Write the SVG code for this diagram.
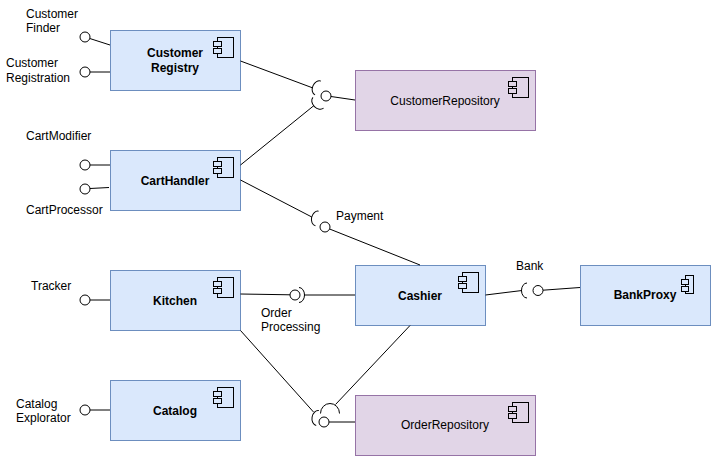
<svg xmlns="http://www.w3.org/2000/svg" xmlns:xlink="http://www.w3.org/1999/xlink" width="711" height="456" viewBox="0 0 711 456">
<style>
text{font-family:"Liberation Sans",Arial,Helvetica,sans-serif;font-size:12px;fill:#000}
.b{font-weight:bold;text-anchor:middle}
.n{text-anchor:middle}
.blue{fill:#dae8fc;stroke:#6c8ebf;stroke-width:1}
.purple{fill:#e1d5e7;stroke:#9673a6;stroke-width:1}
.ln{fill:none;stroke:#000;stroke-width:1}
.ball{fill:#fff;stroke:#000;stroke-width:1}
.sock{fill:none;stroke:#000;stroke-width:1}
.ic{stroke:#000;stroke-width:1}
</style>
<defs>
<g id="icon">
<rect class="ic" x="0" y="0" width="16" height="20"/>
<rect class="ic" x="-4" y="4" width="8" height="5"/>
<rect class="ic" x="-4" y="11" width="8" height="5"/>
</g>
<path id="sk" d="M 0 -7.5 A 5.5 7.5 0 0 0 0 7.5"/>
</defs>
<rect width="711" height="456" fill="#fff"/>

<g id="customerRegistry">
<rect class="blue" x="110.5" y="30.5" width="130" height="60"/>
<use xlink:href="#icon" href="#icon" x="217.5" y="37.5" fill="#dae8fc"/>
<text class="b" x="175" y="57">Customer</text>
<text class="b" x="175" y="72">Registry</text>
</g>
<g id="cartHandler">
<rect class="blue" x="110.5" y="150.5" width="130" height="60"/>
<use xlink:href="#icon" href="#icon" x="217.5" y="157.5" fill="#dae8fc"/>
<text class="b" x="175" y="184.5">CartHandler</text>
</g>
<g id="kitchen">
<rect class="blue" x="110.5" y="270.5" width="130" height="60"/>
<use xlink:href="#icon" href="#icon" x="217.5" y="277.5" fill="#dae8fc"/>
<text class="b" x="175" y="304.5">Kitchen</text>
</g>
<g id="catalog">
<rect class="blue" x="110.5" y="380.5" width="130" height="60"/>
<use xlink:href="#icon" href="#icon" x="217.5" y="387.5" fill="#dae8fc"/>
<text class="b" x="175" y="414.5">Catalog</text>
</g>
<g id="customerRepository">
<rect class="purple" x="355.5" y="70.5" width="180" height="60"/>
<use xlink:href="#icon" href="#icon" x="512.5" y="77.5" fill="#e1d5e7"/>
<text class="n" x="445" y="104.5">CustomerRepository</text>
</g>
<g id="cashier">
<rect class="blue" x="355.5" y="265.5" width="130" height="60"/>
<use xlink:href="#icon" href="#icon" x="462.5" y="272.5" fill="#dae8fc"/>
<text class="b" x="420" y="299.5">Cashier</text>
</g>
<g id="orderRepository">
<rect class="purple" x="355.5" y="395.5" width="180" height="60"/>
<use xlink:href="#icon" href="#icon" x="512.5" y="402.5" fill="#e1d5e7"/>
<text class="n" x="445" y="429">OrderRepository</text>
</g>
<g id="bankProxy">
<rect class="blue" x="580.5" y="265.5" width="130" height="60"/>
<rect class="ic" x="685.5" y="275.5" width="8" height="18" fill="#dae8fc"/>
<rect class="ic" x="681.5" y="279.5" width="7" height="5" fill="#dae8fc"/>
<rect class="ic" x="681.5" y="286.5" width="7" height="5" fill="#dae8fc"/>
<text class="b" x="645" y="299">BankProxy</text>
</g>

<g id="connectors">
<line class="ln" x1="89.8" y1="38.5" x2="110" y2="45"/>
<line class="ln" x1="90" y1="72" x2="110" y2="72"/>
<line class="ln" x1="90" y1="165" x2="110" y2="165"/>
<line class="ln" x1="90" y1="188.5" x2="109" y2="187.5"/>
<line class="ln" x1="90" y1="300" x2="110" y2="300"/>
<line class="ln" x1="90" y1="410" x2="110" y2="410"/>

<line class="ln" x1="240.5" y1="61" x2="313" y2="88"/>
<line class="ln" x1="240.5" y1="165" x2="314" y2="105.5"/>
<line class="ln" x1="331" y1="96.5" x2="355" y2="100"/>
<line class="ln" x1="240.5" y1="180" x2="311.8" y2="217"/>
<line class="ln" x1="329.6" y1="229" x2="420" y2="265"/>
<line class="ln" x1="240.5" y1="294" x2="290" y2="294.8"/>
<line class="ln" x1="304" y1="295" x2="355" y2="295"/>
<line class="ln" x1="485.5" y1="295" x2="522" y2="290.5"/>
<line class="ln" x1="543" y1="290.2" x2="580" y2="287.5"/>
<line class="ln" x1="240.5" y1="330.5" x2="313.5" y2="412"/>
<line class="ln" x1="410" y1="325.5" x2="335.5" y2="404.5"/>
<line class="ln" x1="329" y1="422" x2="355" y2="422"/>
</g>

<g id="interfaces">
<circle class="ball" cx="85" cy="37" r="5"/>
<circle class="ball" cx="85" cy="72" r="5"/>
<circle class="ball" cx="85" cy="165" r="5"/>
<circle class="ball" cx="85" cy="189" r="5"/>
<circle class="ball" cx="85" cy="300" r="5"/>
<circle class="ball" cx="85" cy="410" r="5"/>

<circle class="ball" cx="326" cy="96" r="5"/>
<use xlink:href="#sk" href="#sk" class="sock" transform="translate(318,88) rotate(23)"/>
<use xlink:href="#sk" href="#sk" class="sock" transform="translate(318.3,102.7) rotate(-45)"/>

<circle class="ball" cx="325" cy="227" r="5"/>
<use xlink:href="#sk" href="#sk" class="sock" transform="translate(317,218.5) rotate(12)"/>

<circle class="ball" cx="295" cy="295" r="5"/>
<use xlink:href="#sk" href="#sk" class="sock" transform="translate(299,295) rotate(180)"/>

<circle class="ball" cx="538" cy="290.5" r="5"/>
<use xlink:href="#sk" href="#sk" class="sock" transform="translate(527,290.5)"/>

<circle class="ball" cx="324" cy="422" r="5"/>
<use xlink:href="#sk" href="#sk" class="sock" transform="translate(317.5,418) rotate(10)"/>
<path class="sock" d="M 0 -9.5 A 10 9.5 0 0 0 0 9.5" transform="translate(330,413.5) rotate(90)"/>
</g>

<g id="labels">
<text x="26" y="18">Customer</text>
<text x="26" y="32">Finder</text>
<text x="6" y="67">Customer</text>
<text x="6" y="82">Registration</text>
<text x="26" y="140">CartModifier</text>
<text x="26" y="214">CartProcessor</text>
<text x="31" y="290">Tracker</text>
<text x="16" y="408">Catalog</text>
<text x="16" y="422">Explorator</text>
<text x="336" y="220">Payment</text>
<text x="261" y="317">Order</text>
<text x="261" y="331">Processing</text>
<text x="516" y="270">Bank</text>
</g>
</svg>
